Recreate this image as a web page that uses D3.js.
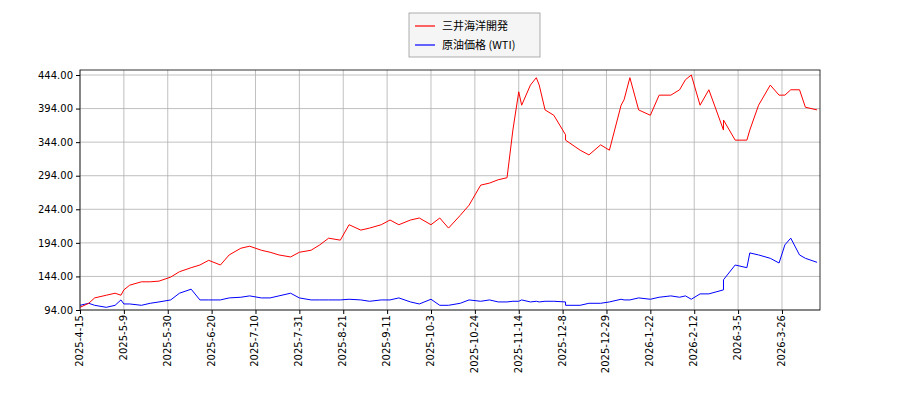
<!DOCTYPE html>
<html>
<head>
<meta charset="utf-8">
<script src="https://cdn.jsdelivr.net/npm/d3@7"></script>
<style>body{margin:0;background:#fff;font-family:"DejaVu Sans",sans-serif;}</style>
</head>
<body>
<svg id="chart" width="900" height="400"></svg>
<script>
// trading-day index of each sample
const days = [0,3,5,9,12,14,15,17,21,24,27,31,34,38,41,44,48,51,55,58,62,65,68,72,75,79,82,85,89,92,96,99,103,106,109,113,116,120,123,126,130,133,137,140,143,146,148,150,151,154,156,157,159,162,166,166,171,174,178,181,185,186,188,191,195,198,202,205,207,209,212,215,220,220,224,228,229,232,236,239,241,243,246,248,252];
const mitsui = [98,104,112,116,119,116,124,131,136,136,137,143,151,157,161,168,161,176,186,189,183,180,176,173,180,183,191,201,198,221,213,216,221,228,221,228,231,221,231,216,235,250,280,283,288,291,362,419,399,429,440,429,392,384,355,347,332,325,340,332,399,407,440,392,384,414,414,422,437,444,399,422,362,377,347,347,362,399,429,414,414,422,422,396,392];
const wti = [101,104,101,98,101,109,103,103,101,104,106,109,119,125,109,109,109,112,113,115,112,112,115,119,112,109,109,109,109,110,109,107,109,109,112,106,103,110,101,101,104,109,107,109,106,106,107,107,109,106,107,106,107,107,106,101,101,104,104,106,110,109,109,112,110,113,115,113,115,110,118,118,124,139,161,157,179,176,171,164,191,201,176,171,165];
const yTicks = [94,144,194,244,294,344,394,444];
const xTickLabels = ["2025-4-15","2025-5-9","2025-5-30","2025-6-20","2025-7-10","2025-7-31","2025-8-21","2025-9-11","2025-10-3","2025-10-24","2025-11-14","2025-12-8","2025-12-29","2026-1-22","2026-2-12","2026-3-5","2026-3-26"];
const xTickDays = xTickLabels.map((d, i) => i * 15);

const svg = d3.select("#chart");
const pLeft = 80, pRight = 820, pTop = 70, pBottom = 310;
const x = d3.scaleLinear().domain([0, 253]).range([pLeft, pRight]);
const y = d3.scaleLinear().domain([94, 444]).range([pBottom, 75]);

// grid
svg.append("g").selectAll("line").data(yTicks).join("line")
  .attr("x1", pLeft).attr("x2", pRight).attr("y1", d => y(d)).attr("y2", d => y(d))
  .attr("stroke", "#b0b0b0").attr("stroke-width", 0.8);
svg.append("g").selectAll("line").data(xTickDays).join("line")
  .attr("y1", pTop).attr("y2", pBottom).attr("x1", d => x(d)).attr("x2", d => x(d))
  .attr("stroke", "#b0b0b0").attr("stroke-width", 0.8);

const line = d3.line().x((d, i) => x(days[i])).y(d => y(d));
svg.append("path").datum(wti).attr("d", line).attr("fill", "none").attr("stroke", "blue").attr("stroke-width", 1);
svg.append("path").datum(mitsui).attr("d", line).attr("fill", "none").attr("stroke", "red").attr("stroke-width", 1);

svg.append("rect").attr("x", pLeft).attr("y", pTop).attr("width", pRight - pLeft).attr("height", pBottom - pTop)
  .attr("fill", "none").attr("stroke", "#000").attr("stroke-width", 0.8);

const ya = svg.append("g").attr("transform", `translate(${pLeft},0)`)
  .call(d3.axisLeft(y).tickValues(yTicks).tickFormat(d3.format(".2f")).tickSize(4));
ya.select(".domain").remove();
ya.selectAll("text").attr("font-size", 10).attr("fill", "#000").attr("font-family", "DejaVu Sans");

const xa = svg.append("g").attr("transform", `translate(0,${pBottom})`)
  .call(d3.axisBottom(x).tickValues(xTickDays).tickFormat((d, i) => xTickLabels[i]).tickSize(4));
xa.select(".domain").remove();
xa.selectAll("text").attr("font-size", 10).attr("fill", "#000").attr("font-family", "DejaVu Sans")
  .attr("transform", "rotate(-90)").attr("text-anchor", "end").attr("dx", "-0.5em").attr("dy", "-0.45em");

// legend
const lg = svg.append("g");
lg.append("rect").attr("x", 409).attr("y", 13).attr("width", 131).attr("height", 44)
  .attr("fill", "#f5f5f5").attr("stroke", "#999").attr("stroke-width", 0.8);
[["三井海洋開発", "red"], ["原油価格 (WTI)", "blue"]].forEach(([t, c], i) => {
  const yy = 26 + i * 19;
  lg.append("line").attr("x1", 415).attr("x2", 435).attr("y1", yy).attr("y2", yy).attr("stroke", c).attr("stroke-width", 1.2);
  lg.append("text").attr("x", 442).attr("y", yy + 4).attr("font-size", 11)
    .attr("font-family", "Noto Sans CJK JP").text(t);
});
</script>
</body>
</html>
